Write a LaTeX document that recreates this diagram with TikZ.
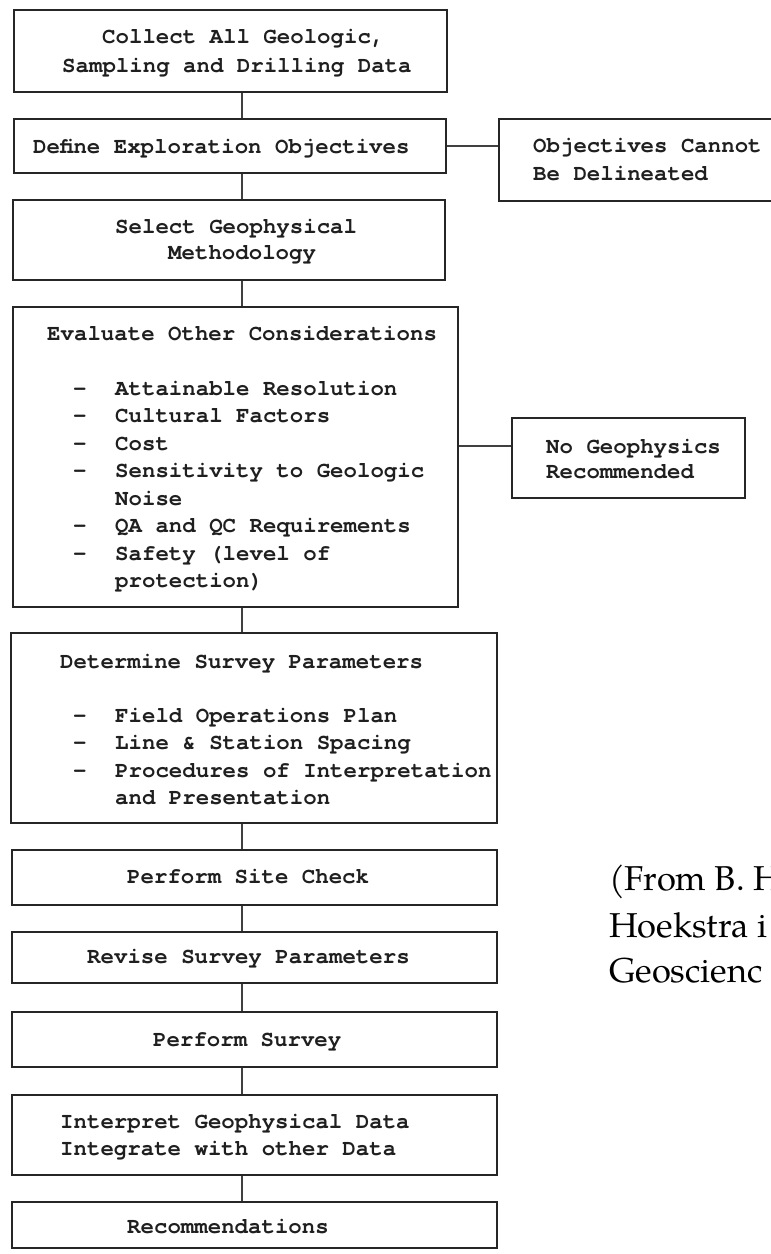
\documentclass[tikz,border=0pt]{standalone}
\usepackage{fontspec}
\usetikzlibrary{fit}
\newfontfamily\boxfont{texgyrecursor-bold.otf}
\newfontfamily\capfont{texgyrepagella-regular.otf}
\newcommand\dashitem[1]{\makebox[42pt][l]{-}#1}
\tikzset{
  stepbox/.style={draw=black!85, line width=1.3pt, inner sep=0pt, rectangle},
  lbl/.style={anchor=base west, inner sep=0pt, text=black!88,
              font=\boxfont\fontsize{22.4}{27.4}\selectfont},
  link/.style={draw=black!75, line width=1.3pt},
  srcnote/.style={anchor=base west, inner sep=0pt, font=\capfont\fontsize{34.5}{46}\selectfont}
}
\begin{document}
\begin{tikzpicture}[x=1pt,y=-1pt]
\path[use as bounding box] (0,0) rectangle (771,1254);
\clip (0,0) rectangle (771,1254);
\fill[white] (0,0) rectangle (771,1254);

% spine of the main column
\coordinate (spine) at (242,0);
\coordinate (tap) at (0,446);

% boxes
\node[stepbox, fit={(14,10) (447,92)}]   (b1) {};
\node[stepbox, fit={(14,119) (446,173)}] (b2) {};
\node[stepbox, fit={(499,119) (790,201)}] (obj) {};
\node[stepbox, fit={(13,200) (445,280)}] (b3) {};
\node[stepbox, fit={(13,307) (458,607)}] (b4) {};
\node[stepbox, fit={(512,418) (745,498)}] (nog) {};
\node[stepbox, fit={(11,633) (497,823)}] (b5) {};
\node[stepbox, fit={(12,850) (497,905)}] (b6) {};
\node[stepbox, fit={(12,932) (497,983)}] (b7) {};
\node[stepbox, fit={(12,1012) (497,1067)}] (b8) {};
\node[stepbox, fit={(12,1095) (497,1175)}] (b9) {};
\node[stepbox, fit={(12,1202) (497,1248)}] (b10) {};

% connectors
\draw[link] (b1.south -| spine) -- (b2.north -| spine);
\draw[link] (b2.south -| spine) -- (b3.north -| spine);
\draw[link] (b3.south -| spine) -- (b4.north -| spine);
\draw[link] (b4.south -| spine) -- (b5.north -| spine);
\draw[link] (b5.south -| spine) -- (b6.north -| spine);
\draw[link] (b6.south -| spine) -- (b7.north -| spine);
\draw[link] (b7.south -| spine) -- (b8.north -| spine);
\draw[link] (b8.south -| spine) -- (b9.north -| spine);
\draw[link] (b9.south -| spine) -- (b10.north -| spine);
\draw[link] (b2.east) -- (obj.west |- b2.east);
\draw[link] (b4.east |- tap) -- (nog.west |- tap);

% texts
\node[lbl] (t1a) at (102,43) {Collect All Geologic,};
\node[lbl] (t1b) at (62,72) {Sampling and Drilling Data};
\node[lbl] (t2) at (33,153) {Define Exploration Objectives};
\node[lbl] (to1) at (533,152) {Objectives Cannot};
\node[lbl] (to2) at (533,180) {Be Delineated};
\node[lbl] (t3a) at (115,233) {Select Geophysical};
\node[lbl] (t3b) at (168,259) {Methodology};

\node[lbl] (t4) at (47,340) {Evaluate Other Considerations};
\node[lbl] (t4a) at (73,395) {\dashitem{Attainable Resolution}};
\node[lbl] (t4b) at (73,422.5) {\dashitem{Cultural Factors}};
\node[lbl] (t4c) at (73,450) {\dashitem{Cost}};
\node[lbl] (t4d) at (73,477.5) {\dashitem{Sensitivity to Geologic}};
\node[lbl] (t4e) at (115,505) {Noise};
\node[lbl] (t4f) at (73,532.5) {\dashitem{QA and QC Requirements}};
\node[lbl] (t4g) at (73,560) {\dashitem{Safety (level of}};
\node[lbl] (t4h) at (115,587) {protection)};

\node[lbl] (tn1) at (546,453) {No Geophysics};
\node[lbl] (tn2) at (546,478) {Recommended};

\node[lbl] (t5) at (60,668) {Determine Survey Parameters};
\node[lbl] (t5a) at (73,722) {\dashitem{Field Operations Plan}};
\node[lbl] (t5b) at (73,749.5) {\dashitem{Line \& Station Spacing}};
\node[lbl] (t5c) at (73,777) {\dashitem{Procedures of Interpretation}};
\node[lbl] (t5d) at (115,804) {and Presentation};

\node[lbl] (t6) at (127,883) {Perform Site Check};
\node[lbl] (t7) at (87,963) {Revise Survey Parameters};
\node[lbl] (t8) at (153,1046) {Perform Survey};
\node[lbl] (t9a) at (60,1128) {Interpret Geophysical Data};
\node[lbl] (t9b) at (60,1155) {Integrate with other Data};
\node[lbl] (t10) at (127,1233) {Recommendations};

% source note
\node[srcnote] (c1) at (609,890) {(From B. H};
\node[srcnote] (c2) at (609,937) {Hoekstra i};
\node[srcnote] (c3) at (609,982) {Geoscienc};
\end{tikzpicture}
\end{document}
